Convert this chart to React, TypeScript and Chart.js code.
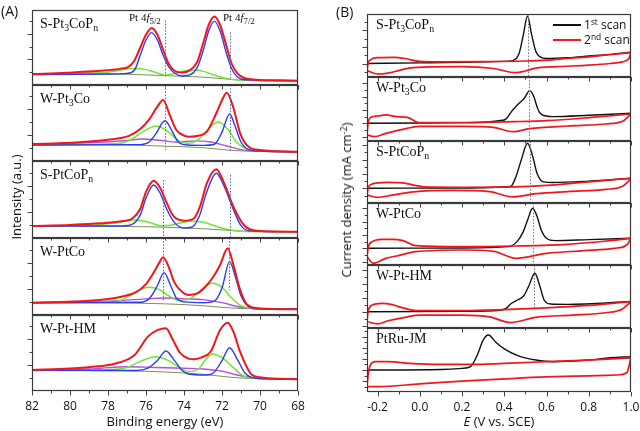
import React, { useEffect, useRef } from 'react';
import { Chart, registerables } from 'chart.js';

Chart.register(...registerables);

type Pt = [number, number];

// ---------------- axis ticks ----------------
const energyTicks = [82, 80, 78, 76, 74, 72, 70, 68];
const energyTickLabels = ['82', '80', '78', '76', '74', '72', '70', '68'];
const potentialTicks = [-0.2, 0.0, 0.2, 0.4, 0.6, 0.8, 1.0];
const potentialTickLabels = ['-0.2', '0.0', '0.2', '0.4', '0.6', '0.8', '1.0'];

// sample names (even index: normal text, odd index: subscript)
const xpsSampleNames = [['S-Pt', '3', 'CoP', 'n'], ['W-Pt', '3', 'Co'], ['S-PtCoP', 'n'], ['W-PtCo'], ['W-Pt-HM']];
const cvSampleNames = [['S-Pt', '3', 'CoP', 'n'], ['W-Pt', '3', 'Co'], ['S-PtCoP', 'n'], ['W-PtCo'], ['W-Pt-HM'], ['PtRu-JM']];

// ---------------- (A) XPS Pt 4f : [binding energy eV, intensity a.u.] ----------------
const xps1Fit: Pt[] = [[82, 14.6], [80.2, 16.3], [78.4, 18.9], [77.4, 21.5], [76.9, 24.5], [76.6, 33], [76.3, 50], [76.0, 67], [75.7, 75.9], [75.4, 67], [75.1, 47], [74.8, 28], [74.5, 19], [74.1, 16.6], [73.7, 19.5], [73.3, 31], [73.0, 55], [72.7, 80], [72.4, 91.4], [72.1, 80], [71.8, 55], [71.5, 29], [71.2, 15.9], [70.8, 9], [70.2, 7], [69, 6.2], [68, 5.7]];
const xps1Pt0: Pt[] = [[82, 13.9], [78, 14.6], [77, 15.5], [76.6, 20], [76.3, 40], [76.0, 60], [75.7, 69.8], [75.4, 60], [75.1, 40], [74.8, 24], [74.5, 16], [74.1, 12], [73.7, 13.4], [73.3, 23.5], [73.0, 45], [72.7, 72], [72.4, 85.2], [72.1, 72], [71.8, 45], [71.5, 22], [71.2, 11], [70.8, 7], [68, 5.7]];
const xps1Pt2: Pt[] = [[82, 14.6], [79, 15.5], [78, 17], [77.3, 20], [76.6, 22.1], [76, 20.5], [75.4, 16], [75, 13.5], [74.6, 14.5], [74.1, 18], [73.5, 19.9], [73, 18.5], [72.5, 14], [72, 10], [71.5, 7.5], [70.5, 6], [68, 5.7]];
const xps1Bg: Pt[] = [[82, 14.6], [77, 14.3], [76, 13.5], [75, 12.5], [74, 11.5], [73, 10.5], [72, 8.5], [71, 6.5], [68, 5.7]];

const xps2Fit: Pt[] = [[82, 22.4], [80, 24], [78, 28], [76.9, 33], [76.3, 42], [75.85, 54], [75.4, 71.5], [75.1, 80.3], [74.75, 60.5], [74.4, 40.8], [74.0, 33.5], [73.7, 32], [73.2, 33.5], [72.8, 38.6], [72.3, 62.8], [72.0, 80], [71.75, 89.9], [71.4, 70], [71.05, 36.8], [70.6, 18.8], [70, 14.5], [68, 12.3]];
const xps2Pt0: Pt[] = [[82, 21], [76.5, 21.5], [75.9, 24], [75.5, 35], [75.0, 53], [74.6, 38], [74.3, 25], [73.8, 21], [73.0, 20.5], [72.4, 22], [72.0, 38], [71.6, 61.9], [71.3, 45], [71.0, 25], [70.6, 15], [70, 13], [68, 12]];
const xps2Pt2: Pt[] = [[82, 21], [77.5, 23], [76.8, 28], [76.2, 38], [75.45, 46], [74.8, 38], [74.3, 27], [73.8, 23], [73.3, 27], [72.8, 40], [72.2, 51.3], [71.7, 42], [71.2, 24], [70.7, 16], [70, 13], [68, 12]];
const xps2PtOx: Pt[] = [[82, 22], [79, 24], [77, 27], [76.2, 29], [75.2, 27], [74.4, 25], [73.4, 26.5], [72.6, 25], [71.8, 20], [71, 15], [70, 13], [68, 12.3]];
const xps2Bg: Pt[] = [[82, 21.5], [77, 21], [75, 19.5], [73, 17.5], [71.5, 14], [70, 12.5], [68, 12]];

const xps3Fit: Pt[] = [[82, 15.6], [80, 17], [78.4, 19], [77.2, 22], [76.7, 25.6], [76.3, 38], [76.0, 60], [75.6, 74.5], [75.25, 65], [74.9, 45], [74.56, 28.6], [74.0, 22.5], [73.5, 25], [73.16, 40.7], [72.8, 71], [72.3, 89.3], [71.9, 72], [71.4, 40.7], [70.85, 16.9], [70.2, 9.5], [68, 8.2]];
const xps3Pt0: Pt[] = [[82, 15.5], [77.5, 15.5], [76.8, 17], [76.3, 30], [76.0, 52], [75.6, 68.9], [75.25, 58], [74.9, 37], [74.5, 20], [74.0, 13], [73.6, 14], [73.2, 28], [72.8, 60], [72.3, 84], [71.9, 68], [71.4, 37], [71.0, 16], [70.6, 9.5], [68, 8.2]];
const xps3Pt2: Pt[] = [[82, 15.5], [79, 16.5], [77.5, 20], [76.55, 23.4], [75.8, 20], [75.2, 16], [74.7, 16.5], [74.1, 20], [73.5, 22.1], [72.9, 20], [72.3, 15], [71.6, 10.5], [70.8, 8.5], [68, 8.2]];
const xps3Bg: Pt[] = [[82, 15.5], [77, 15], [75, 14], [74, 13], [73, 12], [72, 10.5], [71, 9], [68, 8.2]];

const xps4Fit: Pt[] = [[82, 16], [79, 18.5], [77.3, 23.8], [76.5, 30], [76.0, 40], [75.6, 55], [75.3, 68], [75.1, 75], [74.8, 62], [74.5, 42], [74.1, 30], [73.77, 26], [73.3, 28], [72.9, 36], [72.5, 48], [72.1, 65], [71.7, 86.7], [71.4, 65], [71.05, 33], [70.7, 14], [70, 8.5], [68, 7.4]];
const xps4Pt0: Pt[] = [[82, 16], [76.3, 16.5], [75.8, 22], [75.4, 38], [75.05, 55], [74.7, 38], [74.4, 22], [74.0, 17], [73.0, 16], [72.4, 18], [72.0, 35], [71.6, 69.3], [71.3, 50], [71.0, 25], [70.6, 11], [70, 8], [68, 7.4]];
const xps4Pt2: Pt[] = [[82, 16], [77.5, 18], [76.8, 26], [76.3, 33], [75.85, 36], [75.3, 33], [74.8, 25], [74.3, 19], [73.8, 20], [73.3, 28], [72.9, 37], [72.5, 41.2], [72.0, 36], [71.5, 22], [71.0, 12], [70.5, 9], [68, 7.4]];
const xps4PtOx: Pt[] = [[82, 16], [78, 18], [76, 21], [75, 22], [74, 21], [73, 20], [72, 16], [71, 10], [70, 8], [68, 7.4]];
const xps4Bg: Pt[] = [[82, 16], [77, 15.5], [75, 14.5], [74, 13.5], [73, 12], [72, 10], [71, 8.5], [68, 7.4]];

const xps5Fit: Pt[] = [[82, 27.6], [80, 29.5], [78.5, 32.5], [77.7, 35.5], [76.6, 47.4], [75.9, 71.5], [75.4, 80], [74.95, 82.5], [74.6, 68], [74.2, 50], [73.8, 43], [73.5, 41.7], [73.1, 44], [72.6, 51.7], [72.1, 80.3], [71.7, 89.9], [71.4, 78], [71.05, 51.7], [70.5, 23.3], [70, 18], [68, 15.4]];
const xps5Pt0: Pt[] = [[82, 27.5], [76.5, 27], [75.9, 30], [75.4, 40], [74.95, 52.6], [74.5, 40], [74.1, 27], [73.7, 22], [73.0, 21], [72.5, 23], [72.0, 40], [71.6, 57], [71.2, 42], [70.8, 24], [70.3, 17], [68, 15.4]];
const xps5Pt2: Pt[] = [[82, 27], [78, 28], [77, 31], [76.3, 39], [75.5, 45.2], [74.8, 40], [74.2, 30], [73.7, 25.5], [73.2, 30], [72.9, 40], [72.5, 48.7], [72.0, 44], [71.5, 33], [71.0, 22], [70.5, 17], [68, 15.4]];
const xps5PtOx: Pt[] = [[82, 27.5], [79, 29], [77, 32], [75.5, 31], [74, 30], [73, 29], [72, 26], [71, 20], [70, 16.5], [68, 15.4]];
const xps5Bg: Pt[] = [[82, 27], [77, 26.5], [75, 25], [73, 22], [71.5, 18], [70, 16], [68, 15.3]];

// Pt 4f reference positions: [energy, from, to]
const xps1Refs = [[75.0, 10.6, 86], [71.6, 6.6, 70.2]];
const xps2Refs = [[75.0, 14.5, 100], [71.6, 11.8, 100]];
const xps3Refs = [[75.1, 0, 75.4], [71.6, 0, 81.9]];
const xps4Refs = [[75.1, 19.5, 100], [71.65, 32.5, 100]];
const xps5Refs: number[][] = [];

// ---------------- (B) CV : [potential V vs SCE, current density] ----------------
const cv1First: Pt[] = [[-0.25, 0], [0.0, 0.08], [0.2, 0.15], [0.4, 0.25], [0.44, 0.35], [0.47, 1.2], [0.49, 3.4], [0.51, 5.7], [0.53, 3.4], [0.55, 1.4], [0.57, 0.8], [0.6, 0.6], [0.7, 0.7], [0.8, 0.9], [0.9, 1.1], [1.0, 1.35]];
const cv1SecondUp: Pt[] = [[-0.25, -0.86], [-0.245, 0.0], [-0.23, 0.5], [-0.2, 0.7], [-0.12, 0.74], [-0.07, 0.6], [0.0, 0.25], [0.1, 0.2], [0.3, 0.22], [0.5, 0.3], [0.6, 0.4], [0.7, 0.6], [0.8, 0.8], [0.9, 1.05], [1.0, 1.3]];
const cv1SecondDown: Pt[] = [[-0.25, -0.86], [-0.2, -1.26], [-0.15, -1.15], [-0.1, -0.85], [-0.05, -0.55], [0.05, -0.4], [0.2, -0.38], [0.35, -0.6], [0.455, -1.1], [0.5, -0.9], [0.55, -0.55], [0.65, -0.38], [0.8, -0.2], [0.9, 0.0], [0.96, 0.2], [0.99, 0.6], [1.0, 1.3]];

const cv2First: Pt[] = [[-0.25, 0], [0.2, 0.1], [0.4, 0.5], [0.44, 2.0], [0.47, 3.0], [0.495, 3.75], [0.52, 4.9], [0.54, 4.0], [0.555, 2.5], [0.57, 1.5], [0.6, 1.1], [0.63, 1.0], [0.8, 1.2], [1.0, 1.5]];
const cv2SecondUp: Pt[] = [[-0.25, -1.75], [-0.245, 0.0], [-0.23, 0.9], [-0.2, 1.1], [-0.16, 1.25], [-0.11, 1.0], [-0.06, 0.9], [0.0, 0.1], [0.2, 0.1], [0.45, 0.25], [0.6, 0.4], [0.8, 0.85], [1.0, 1.4]];
const cv2SecondDown: Pt[] = [[-0.25, -1.75], [-0.215, -2.0], [-0.16, -1.5], [-0.06, -0.75], [0.0, -0.45], [0.2, -0.45], [0.35, -0.6], [0.44, -1.25], [0.52, -0.8], [0.7, -0.4], [0.88, -0.1], [0.96, 0.3], [1.0, 1.4]];

const cv3First: Pt[] = [[-0.25, 0], [0.2, 0.05], [0.43, 0.25], [0.455, 1.6], [0.48, 3.9], [0.51, 6.25], [0.535, 4.4], [0.555, 2.1], [0.585, 0.9], [0.63, 0.8], [0.8, 1.0], [1.0, 1.4]];
const cv3SecondUp: Pt[] = [[-0.25, -0.93], [-0.245, 0.0], [-0.23, 0.55], [-0.2, 0.75], [-0.15, 0.82], [-0.08, 0.75], [-0.03, 0.45], [0.02, 0.2], [0.2, 0.15], [0.45, 0.2], [0.6, 0.4], [0.8, 0.9], [1.0, 1.4]];
const cv3SecondDown: Pt[] = [[-0.25, -0.93], [-0.2, -1.25], [-0.13, -0.95], [-0.03, -0.5], [0.15, -0.3], [0.33, -0.45], [0.44, -1.2], [0.55, -0.75], [0.7, -0.45], [0.88, -0.15], [0.96, 0.3], [1.0, 1.3]];

const cv4First: Pt[] = [[-0.25, 0], [0.2, 0.05], [0.42, 0.25], [0.46, 1.0], [0.49, 2.5], [0.51, 4.2], [0.534, 6.0], [0.555, 4.8], [0.575, 2.75], [0.6, 1.5], [0.64, 1.15], [0.8, 1.3], [1.0, 1.5]];
const cv4SecondUp: Pt[] = [[-0.25, -1.25], [-0.245, 0.0], [-0.225, 1.0], [-0.18, 1.35], [-0.13, 1.35], [-0.08, 1.15], [-0.02, 0.4], [0.2, 0.25], [0.45, 0.35], [0.7, 0.6], [0.9, 1.15], [1.0, 1.5]];
const cv4SecondDown: Pt[] = [[-0.25, -1.25], [-0.22, -2.25], [-0.16, -1.5], [-0.11, -1.15], [-0.02, -0.5], [0.2, -0.25], [0.35, -0.45], [0.455, -1.5], [0.6, -0.75], [0.78, -0.35], [0.92, 0.0], [0.98, 0.5], [1.0, 1.5]];

const cv5First: Pt[] = [[-0.25, 0], [0.2, 0.05], [0.38, 0.2], [0.41, 0.5], [0.43, 1.1], [0.455, 1.55], [0.49, 2.2], [0.515, 3.6], [0.545, 5.5], [0.565, 4.0], [0.59, 1.6], [0.62, 1.1], [0.7, 1.05], [1.0, 1.45]];
const cv5SecondUp: Pt[] = [[-0.25, -1.4], [-0.245, 0.0], [-0.225, 0.95], [-0.18, 1.2], [-0.13, 1.0], [-0.08, 0.55], [-0.01, 0.15], [0.2, 0.15], [0.4, 0.3], [0.6, 0.55], [0.8, 0.9], [0.9, 1.15], [1.0, 1.45]];
const cv5SecondDown: Pt[] = [[-0.25, -1.4], [-0.2, -1.75], [-0.15, -1.3], [-0.07, -0.8], [0.0, -0.5], [0.2, -0.5], [0.33, -0.75], [0.43, -1.55], [0.55, -0.8], [0.72, -0.5], [0.88, -0.15], [0.96, 0.4], [1.0, 1.45]];

const cv6First: Pt[] = [[-0.25, 0], [0.1, 0.1], [0.2, 0.3], [0.24, 0.6], [0.27, 2.5], [0.3, 5.4], [0.325, 6.3], [0.36, 5.0], [0.4, 3.8], [0.47, 2.5], [0.55, 1.8], [0.63, 1.5], [0.8, 1.8], [0.9, 2.2], [1.0, 2.4]];
const cv6SecondUp: Pt[] = [[-0.25, -3.0], [-0.245, -1.0], [-0.235, 0.8], [-0.21, 1.5], [-0.15, 1.5], [-0.05, 1.2], [0.1, 1.0], [0.25, 1.0], [0.4, 1.2], [0.6, 1.5], [0.8, 1.8], [1.0, 2.2]];
const cv6SecondDown: Pt[] = [[-0.25, -3.0], [-0.2, -3.0], [0.0, -2.5], [0.2, -2.0], [0.4, -1.6], [0.6, -1.25], [0.8, -1.05], [0.93, -0.9], [0.98, -0.5], [1.0, 2.2]];

// oxidation-peak reference potentials: [V, from, to]
const cvRefs = [[[0.51, -1.62, 5.94]], [[0.515, -2.65, 6.94]], [[0.52, -2.04, 6.57]], [[0.537, -2.5, 6.79]], [[0.54, 0.2, 6.67]], []];
const cvYMin = [-1.62, -2.65, -2.04, -2.5, -2.33, -3.96];
const cvYMax = [5.94, 6.94, 6.57, 6.79, 6.67, 7.57];

// ---------------- styling / layout ----------------
const RED = '#f2161b';
const BLUE = '#2a3cf0';
const GREEN = '#72e62e';
const PURPLE = '#b24fe6';
const BG = '#7d8f5a';
const SERIF = '"Liberation Serif", "DejaVu Serif", serif';
const SANS = '"Open Sans", "Liberation Sans", sans-serif';

const A_LEFT = 32, A_RIGHT = 298;
const A_TOPS = [10, 85, 161, 238, 315, 391];
const B_LEFT = 367, B_RIGHT = 631;
const B_TOPS = [14, 77, 141, 203, 265, 328, 392];
const PAD_L = 14, PAD_T = 2;

const energyMinor = energyTicks.slice(1).map((t, i) => (t + energyTicks[i]) / 2);
const potentialMinor = potentialTicks.slice(1).map((t, i) => (t + potentialTicks[i]) / 2);

const framePlugin = {
  id: 'frameTicks',
  afterDatasetsDraw(chart: any, _args: any, o: any) {
    const { ctx, chartArea: a, scales } = chart;
    const x = scales.x, y = scales.y;
    ctx.save();
    ctx.beginPath();
    ctx.rect(a.left, a.top, a.right - a.left, a.bottom - a.top);
    ctx.clip();
    ctx.setLineDash([1.6, 1.6]);
    ctx.strokeStyle = o.refColor;
    ctx.lineWidth = 1;
    for (const r of o.refs) {
      const px = Math.round(x.getPixelForValue(r[0])) + 0.5;
      ctx.beginPath();
      ctx.moveTo(px, y.getPixelForValue(r[2]));
      ctx.lineTo(px, y.getPixelForValue(r[1]));
      ctx.stroke();
    }
    ctx.restore();
    ctx.save();
    ctx.setLineDash([]);
    ctx.strokeStyle = '#3a3a3a';
    ctx.lineWidth = 1.2;
    ctx.strokeRect(a.left + 0.5, a.top + 0.5, a.right - a.left - 1, a.bottom - a.top - 1);
    ctx.lineWidth = 1;
    ctx.strokeStyle = '#444';
    const xt = (v: number, len: number) => {
      const px = Math.round(x.getPixelForValue(v)) + 0.5;
      ctx.beginPath();
      ctx.moveTo(px, a.bottom);
      ctx.lineTo(px, a.bottom + len);
      ctx.stroke();
    };
    o.xMajor.forEach((v: number) => xt(v, 4.5));
    o.xMinor.forEach((v: number) => xt(v, 2.5));
    const k0 = Math.ceil(y.min / o.yStep + 0.05), k1 = Math.floor(y.max / o.yStep - 0.05);
    for (let k = k0; k <= k1; k++) {
      const py = Math.round(y.getPixelForValue(k * o.yStep)) + 0.5;
      const len = k % 2 === 0 ? 4.5 : 2.5;
      ctx.beginPath();
      ctx.moveTo(a.left, py);
      ctx.lineTo(a.left - len, py);
      ctx.stroke();
    }
    if (o.labels) {
      ctx.fillStyle = '#111';
      ctx.font = `12px ${SANS}`;
      ctx.textAlign = 'center';
      ctx.textBaseline = 'alphabetic';
      o.xMajor.forEach((v: number, i: number) => {
        ctx.fillText(o.labels[i], x.getPixelForValue(v), a.bottom + 19);
      });
    }
    ctx.restore();
  },
};

const line = (pts: Pt[], color: string, width: number) => ({
  data: pts.map((p) => ({ x: p[0], y: p[1] })),
  borderColor: color,
  borderWidth: width,
  pointRadius: 0,
  fill: false,
  cubicInterpolationMode: 'monotone' as const,
});

function Plot(p: any) {
  const ref = useRef<HTMLCanvasElement>(null);
  const padB = p.labels ? 30 : 8;
  const padR = p.labels ? 16 : 2;
  const w = p.right - p.left + PAD_L + padR;
  const h = p.bottom - p.top + PAD_T + padB;
  useEffect(() => {
    const chart = new Chart(ref.current as HTMLCanvasElement, {
      type: 'line',
      data: { datasets: p.datasets },
      options: {
        responsive: false,
        animation: false,
        devicePixelRatio: 1,
        events: [],
        layout: { padding: { left: PAD_L, right: padR, top: PAD_T, bottom: padB } },
        scales: {
          x: { type: 'linear', min: p.xMin, max: p.xMax, reverse: !!p.reverse, display: false },
          y: { type: 'linear', min: p.yMin, max: p.yMax, display: false },
        },
        plugins: {
          legend: { display: false },
          tooltip: { enabled: false },
          frameTicks: { refs: p.refs, refColor: p.refColor, xMajor: p.xMajor, xMinor: p.xMinor, yStep: p.yStep, labels: p.labels },
        } as any,
      },
      plugins: [framePlugin],
    } as any);
    return () => chart.destroy();
  }, []);
  return (
    <canvas
      ref={ref}
      width={w}
      height={h}
      style={{ position: 'absolute', left: p.left - PAD_L, top: p.top - PAD_T, width: w, height: h }}
    />
  );
}

function Name({ parts, left, top, size }: { parts: string[]; left: number; top: number; size: number }) {
  return (
    <div style={{ position: 'absolute', left, top, font: `${size}px ${SERIF}`, lineHeight: `${size}px`, whiteSpace: 'nowrap', color: '#111' }}>
      {parts.map((s, i) =>
        i % 2 ? (
          <span key={i} style={{ fontSize: '0.7em', position: 'relative', top: '0.32em' }}>{s}</span>
        ) : (
          <span key={i}>{s}</span>
        )
      )}
    </div>
  );
}

const xpsSets = [
  { fit: xps1Fit, pt0: xps1Pt0, pt2: xps1Pt2, ox: null, bg: xps1Bg, refs: xps1Refs },
  { fit: xps2Fit, pt0: xps2Pt0, pt2: xps2Pt2, ox: xps2PtOx, bg: xps2Bg, refs: xps2Refs },
  { fit: xps3Fit, pt0: xps3Pt0, pt2: xps3Pt2, ox: null, bg: xps3Bg, refs: xps3Refs },
  { fit: xps4Fit, pt0: xps4Pt0, pt2: xps4Pt2, ox: xps4PtOx, bg: xps4Bg, refs: xps4Refs },
  { fit: xps5Fit, pt0: xps5Pt0, pt2: xps5Pt2, ox: xps5PtOx, bg: xps5Bg, refs: xps5Refs },
];

const cvSets = [
  { first: cv1First, up: cv1SecondUp, down: cv1SecondDown },
  { first: cv2First, up: cv2SecondUp, down: cv2SecondDown },
  { first: cv3First, up: cv3SecondUp, down: cv3SecondDown },
  { first: cv4First, up: cv4SecondUp, down: cv4SecondDown },
  { first: cv5First, up: cv5SecondUp, down: cv5SecondDown },
  { first: cv6First, up: cv6SecondUp, down: cv6SecondDown },
];

const abs = (left: number, top: number, extra: any = {}) => ({ position: 'absolute' as const, left, top, whiteSpace: 'nowrap' as const, color: '#111', ...extra });
const supStyle = { fontSize: '0.7em', verticalAlign: '0.45em', lineHeight: 0 };

export default function App() {
  return (
    <div style={{ position: 'absolute', left: 0, top: 0, width: 640, height: 431, background: '#fff', overflow: 'hidden' }}>
      {xpsSets.map((s, i) => {
        const ds: any[] = [line(s.fit, RED, 2), line(s.pt0, BLUE, 1.4), line(s.pt2, GREEN, 1.5)];
        if (s.ox) ds.push(line(s.ox, PURPLE, 1.4));
        ds.push(line(s.bg, BG, 1));
        return (
          <Plot
            key={'a' + i}
            left={A_LEFT}
            right={A_RIGHT}
            top={A_TOPS[i]}
            bottom={A_TOPS[i + 1]}
            xMin={68}
            xMax={82}
            reverse
            yMin={0}
            yMax={100}
            yStep={17}
            datasets={ds}
            refs={s.refs}
            refColor="#5d6c9c"
            xMajor={energyTicks}
            xMinor={energyMinor}
            labels={i === xpsSets.length - 1 ? energyTickLabels : null}
          />
        );
      })}
      {cvSets.map((s, i) => (
        <Plot
          key={'b' + i}
          left={B_LEFT}
          right={B_RIGHT}
          top={B_TOPS[i]}
          bottom={B_TOPS[i + 1]}
          xMin={-0.25}
          xMax={1.0}
          yMin={cvYMin[i]}
          yMax={cvYMax[i]}
          yStep={1}
          datasets={[line(s.up, RED, 1.7), line(s.down, RED, 1.7), line(s.first, '#111', 1.4)]}
          refs={cvRefs[i]}
          refColor="#777"
          xMajor={potentialTicks}
          xMinor={potentialMinor}
          labels={i === cvSets.length - 1 ? potentialTickLabels : null}
        />
      ))}

      {xpsSampleNames.map((n, i) => (
        <Name key={'na' + i} parts={n} left={40} top={A_TOPS[i] + 7} size={14} />
      ))}
      {cvSampleNames.map((n, i) => (
        <Name key={'nb' + i} parts={n} left={376} top={B_TOPS[i] + 4} size={14} />
      ))}

      <div style={abs(129, 11, { font: `11px ${SERIF}` })}>
        Pt 4<i>f</i><span style={{ fontSize: '0.8em', position: 'relative', top: '0.3em' }}>5/2</span>
      </div>
      <div style={abs(223, 11, { font: `11px ${SERIF}` })}>
        Pt 4<i>f</i><span style={{ fontSize: '0.8em', position: 'relative', top: '0.3em' }}>7/2</span>
      </div>

      <div style={abs(1, 1, { font: `14px ${SANS}` })}>(A)</div>
      <div style={abs(336, 2, { font: `14px ${SANS}` })}>(B)</div>

      {/* legend */}
      <div style={abs(553, 24, { width: 28, height: 1.5, background: '#111' })} />
      <div style={abs(553, 39, { width: 28, height: 1.5, background: RED })} />
      <div style={abs(584, 16, { font: `12px ${SANS}` })}>
        1<sup style={supStyle}>st</sup> scan
      </div>
      <div style={abs(584, 31, { font: `12px ${SANS}` })}>
        2<sup style={supStyle}>nd</sup> scan
      </div>

      {/* axis titles */}
      <div style={abs(165, 412, { font: `13px ${SANS}`, transform: 'translateX(-50%)' })}>Binding energy (eV)</div>
      <div style={abs(499, 412, { font: `13px ${SANS}`, transform: 'translateX(-50%)' })}>
        <i>E</i> (V vs. SCE)
      </div>
      <div style={abs(16, 197, { font: `13px ${SANS}`, transform: 'translate(-50%, -50%) rotate(-90deg)' })}>Intensity (a.u.)</div>
      <div style={abs(346, 200, { font: `13px ${SANS}`, transform: 'translate(-50%, -50%) rotate(-90deg)' })}>
        Current density (mA cm<sup style={supStyle}>-2</sup>)
      </div>
    </div>
  );
}
